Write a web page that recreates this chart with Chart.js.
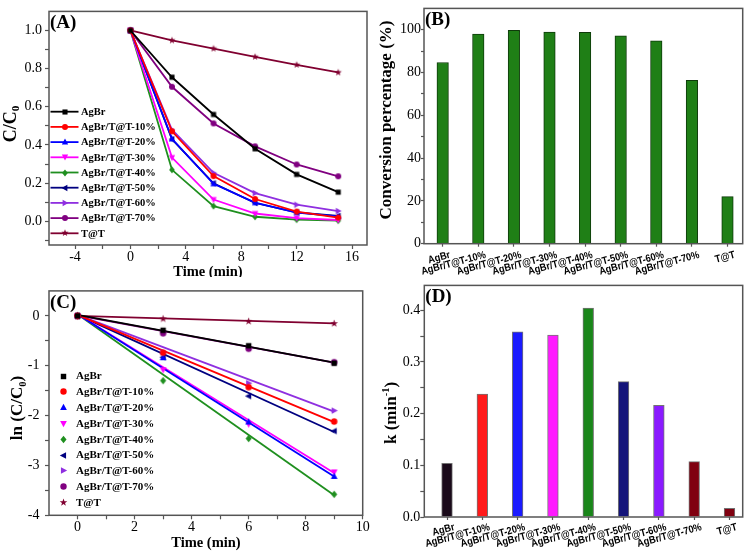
<!DOCTYPE html>
<html><head><meta charset="utf-8">
<script src="https://cdn.jsdelivr.net/npm/chart.js@4/dist/chart.umd.min.js"></script>
<style>
html,body{margin:0;padding:0;background:#fff;}
#wrap{position:relative;width:750px;height:554px;overflow:hidden;background:#fff;}
#wrap canvas{position:absolute;}
</style></head><body>
<div id="wrap">
<canvas id="cA" width="375" height="277" style="left:0;top:0"></canvas>
<canvas id="cB" width="375" height="277" style="left:375px;top:0"></canvas>
<canvas id="cC" width="375" height="277" style="left:0;top:277px"></canvas>
<canvas id="cD" width="375" height="277" style="left:375px;top:277px"></canvas>
</div>
<script>
// ---------------- DATA ----------------
const seriesNames = ['AgBr','AgBr/T@T-10%','AgBr/T@T-20%','AgBr/T@T-30%','AgBr/T@T-40%','AgBr/T@T-50%','AgBr/T@T-60%','AgBr/T@T-70%','T@T'];

// (A) C/C0 vs time
const timeA = [0, 3, 6, 9, 12, 15];
const ratioAgBr = [1, 0.755, 0.56, 0.38, 0.246, 0.153];
const ratio10 = [1, 0.472, 0.237, 0.117, 0.051, 0.02];
const ratio20 = [1, 0.432, 0.197, 0.098, 0.046, 0.026];
const ratio30 = [1, 0.334, 0.114, 0.041, 0.017, 0.007];
const ratio40 = [1, 0.27, 0.08, 0.024, 0.009, 0.004];
const ratio50 = [1, 0.43, 0.199, 0.096, 0.047, 0.028];
const ratio60 = [1, 0.48, 0.254, 0.148, 0.087, 0.054];
const ratio70 = [1, 0.705, 0.513, 0.393, 0.298, 0.236];
const ratioTT = [1, 0.948, 0.905, 0.862, 0.82, 0.78];

// (B) conversion percentage
const conversion = [84.7, 98.0, 99.8, 98.9, 98.8, 97.2, 94.8, 76.4, 22.0];

// (C) ln(C/C0) vs time, with linear fits
const timeC = [0, 3, 6, 9];
const lnAgBr = [0, -0.29, -0.60, -0.95];
const ln10 = [0, -0.74, -1.43, -2.12];
const ln20 = [0, -0.84, -2.13, -3.22];
const ln30 = [0, -1.08, -2.17, -3.13];
const ln40 = [0, -1.30, -2.46, -3.58];
const ln50 = [0, -0.83, -1.61, -2.31];
const ln60 = [0, -0.73, -1.35, -1.90];
const ln70 = [0, -0.35, -0.66, -0.93];
const lnTT = [0, -0.06, -0.11, -0.154];
const fitTime = [0, 9];
const fitAgBr = [0.02, -0.94];
const fit10 = [0.02, -2.13];
const fit20 = [0.03, -3.22];
const fit30 = [0.03, -3.15];
const fit40 = [0.03, -3.60];
const fit50 = [0.02, -2.33];
const fit60 = [0.02, -1.92];
const fit70 = [0.01, -0.94];
const fitTT = [0.0, -0.15];

// (D) rate constants
const rateK = [0.104, 0.238, 0.358, 0.352, 0.404, 0.262, 0.216, 0.107, 0.017];

// tick values
const xMajorA = [-4, 0, 4, 8, 12, 16];
const xMinorA = [-2, 2, 6, 10, 14];
const yMajorA = [0, 0.2, 0.4, 0.6, 0.8, 1.0];
const yMinorA = [-0.1, 0.1, 0.3, 0.5, 0.7, 0.9];
const yMajorB = [0, 20, 40, 60, 80, 100];
const yMinorB = [10, 30, 50, 70, 90];
const xMajorC = [0, 2, 4, 6, 8, 10];
const xMinorC = [1, 3, 5, 7, 9];
const yMajorC = [-4, -3, -2, -1, 0];
const yMinorC = [-3.5, -2.5, -1.5, -0.5];
const yMajorD = [0, 0.1, 0.2, 0.3, 0.4];
const yMinorD = [0.05, 0.15, 0.25, 0.35];
const barPos = [1, 2, 3, 4, 5, 6, 7, 8, 9];

// ---------------- STYLE ----------------
const SERIF = '"Liberation Serif","Times New Roman",serif';
const SANS = '"Liberation Sans",Arial,sans-serif';
const AX = '#555';
const lineColors = ['#000000','#ff0000','#0000ff','#ff00ff','#1f8f1f','#000080','#8f2fe0','#800080','#800030'];
const shapes = [['rect',0],['circle',0],['triangle',0],['triangle',180],['diamond',0],['triangle',-90],['triangle',90],['circle',0],['star',0]];
const barColorsD = ['#1a0a1a','#ff1a1a','#1a1aff','#ff1aff','#1a861a','#14147a','#8a1aff','#800010','#800010'];

function markerCanvas(shape, color, r, rot){
  const s = Math.ceil(r*2+4);
  const c = document.createElement('canvas'); c.width = s; c.height = s;
  const g = c.getContext('2d');
  g.translate(s/2, s/2); g.rotate((rot||0)*Math.PI/180);
  g.fillStyle = color; g.beginPath();
  if (shape==='rect') g.rect(-r*0.85,-r*0.85,r*1.7,r*1.7);
  else if (shape==='circle') g.arc(0,0,r,0,Math.PI*2);
  else if (shape==='triangle'){ g.moveTo(0,-r*1.15); g.lineTo(r*1.05,r*0.8); g.lineTo(-r*1.05,r*0.8); g.closePath(); }
  else if (shape==='diamond'){ g.moveTo(0,-r*1.15); g.lineTo(r*0.95,0); g.lineTo(0,r*1.15); g.lineTo(-r*0.95,0); g.closePath(); }
  else if (shape==='star'){ for(let i=0;i<10;i++){ const a=-Math.PI/2+i*Math.PI/5; const rr=(i%2)?r*0.5:r*1.25; g.lineTo(Math.cos(a)*rr,Math.sin(a)*rr);} g.closePath(); }
  g.fill();
  return c;
}
const markersA = shapes.map((s,i)=>markerCanvas(s[0], lineColors[i], 3, s[1]));
const markersC = shapes.map((s,i)=>markerCanvas(s[0], lineColors[i], 3.2, s[1]));

function drawRich(ctx, cx, cy, segs, size, rot){
  ctx.save();
  ctx.translate(cx, cy);
  if (rot) ctx.rotate(-Math.PI/2);
  let total = 0;
  const parts = segs.map(s=>{
    const fs = (s.sub||s.sup) ? size*0.62 : size;
    ctx.font = 'bold '+fs+'px '+SERIF;
    const w = ctx.measureText(s.t).width; total += w;
    return {s, fs, w};
  });
  let x = -total/2;
  ctx.textAlign='left'; ctx.textBaseline='middle'; ctx.fillStyle='#000';
  parts.forEach(p=>{
    ctx.font = 'bold '+p.fs+'px '+SERIF;
    const dy = p.s.sub ? size*0.3 : (p.s.sup ? -size*0.32 : 0);
    ctx.fillText(p.s.t, x, dy); x += p.w;
  });
  ctx.restore();
}

function framePlugin(o){
  return {
    id:'frame'+o.label,
    afterDraw(chart){
      const ctx = chart.ctx, a = chart.chartArea;
      ctx.save();
      ctx.strokeStyle = AX; ctx.lineWidth = 1.5;
      ctx.strokeRect(a.left, a.top, a.right-a.left, a.bottom-a.top);
      ctx.fillStyle = '#000'; ctx.font = 'bold 19px '+SERIF;
      ctx.textAlign='left'; ctx.textBaseline='middle';
      ctx.fillText(o.label, a.left+1, a.top+12);
      if (o.xTitle) drawRich(ctx, o.xTitle.x, o.xTitle.y, o.xTitle.segs, o.xTitle.size, false);
      if (o.yTitle) drawRich(ctx, o.yTitle.x, o.yTitle.y, o.yTitle.segs, o.yTitle.size, true);
      if (o.legend){
        const L = o.legend;
        seriesNames.forEach((n,i)=>{
          const y = L.y0 + i*L.dy;
          if (L.line){
            ctx.strokeStyle = lineColors[i]; ctx.lineWidth = 1.8;
            ctx.beginPath(); ctx.moveTo(L.lx0, y); ctx.lineTo(L.lx1, y); ctx.stroke();
          }
          const m = L.markers[i];
          ctx.drawImage(m, Math.round(L.mx - m.width/2), Math.round(y - m.height/2));
          ctx.fillStyle = '#000'; ctx.font = 'bold '+L.size+'px '+SERIF;
          ctx.textAlign='left'; ctx.textBaseline='middle';
          ctx.fillText(n, L.tx, y+0.5);
        });
      }
      if (o.cats){
        const C = o.cats, sx = chart.scales.x;
        ctx.fillStyle = '#000'; ctx.font = 'bold '+C.size+'px '+SANS;
        ctx.textAlign='right'; ctx.textBaseline='top';
        seriesNames.forEach((n,i)=>{
          const x = sx.getPixelForValue(barPos[i]);
          ctx.save(); ctx.translate(x + C.dx, a.bottom + C.dy);
          ctx.rotate(-C.rot*Math.PI/180); ctx.scale(C.sx,1);
          ctx.fillText(n, 0, 0); ctx.restore();
        });
      }
      ctx.restore();
    }
  };
}

function numScale(o){
  return {
    type:'linear', min:o.min, max:o.max, offset:false,
    afterBuildTicks(s){ s.ticks = o.major.concat(o.minor).sort((p,q)=>p-q).map(v=>({value:v})); },
    afterFit(s){ if (o.w!==undefined) s.width = o.w; if (o.h!==undefined) s.height = o.h; },
    ticks:{ display: o.labels!==false, autoSkip:false, maxRotation:0, minRotation:0, padding:o.pad||0,
      color:'#000', font:{family:SERIF, size:14},
      callback(v){ return o.major.includes(v) ? o.fmt(v) : ''; } },
    grid:{ display:true, offset:false, drawOnChartArea:false, drawTicks:true, tickLength:o.tl||4, tickColor:AX, tickWidth:1.2 },
    border:{ display:false },
    title:{ display:false }
  };
}
const baseOpts = { responsive:false, animation:false, devicePixelRatio:1, events:[],
  plugins:{ legend:{display:false}, tooltip:{enabled:false} } };
const pts = (xs, ys)=>xs.map((x,i)=>({x, y:ys[i]}));

// ---------------- (A) ----------------
const ratios = [ratioAgBr, ratio10, ratio20, ratio30, ratio40, ratio50, ratio60, ratio70, ratioTT];
new Chart(document.getElementById('cA'), {
  type:'line',
  data:{ datasets: ratios.map((r,i)=>({ label:seriesNames[i], data:pts(timeA, r), borderColor:lineColors[i],
    backgroundColor:lineColors[i], borderWidth:1.8, pointStyle:markersA[i], pointRadius:3, tension:0, fill:false })) },
  options: Object.assign({}, baseOpts, {
    layout:{ padding:{ top:4, right:8, left:0, bottom:0 } },
    scales:{
      x: numScale({min:-5.88, max:17.08, major:xMajorA, minor:xMinorA, fmt:v=>String(v), h:32, pad:0}),
      y: numScale({min:-0.124, max:1.10, major:yMajorA, minor:yMinorA, fmt:v=>v.toFixed(1), w:49, pad:3})
    }
  }),
  plugins:[ framePlugin({ label:'(A)',
    xTitle:{x:208, y:272, size:14.5, segs:[{t:'Time (min)'}]},
    yTitle:{x:11, y:124, size:18, segs:[{t:'C/C'},{t:'0',sub:true}]},
    legend:{ y0:111.7, dy:15.2, line:true, lx0:50.5, lx1:78.5, mx:64.5, tx:81, size:10.5, markers:markersA } }) ]
});

// ---------------- (B) ----------------
new Chart(document.getElementById('cB'), {
  type:'bar',
  data:{ datasets:[{ data:pts(barPos, conversion), backgroundColor:'#1f7f16', borderColor:'#0e3a0a', borderWidth:1, barThickness:11.5 }] },
  options: Object.assign({}, baseOpts, {
    layout:{ padding:{ top:4, right:7.3, left:0, bottom:0 } },
    scales:{
      x: numScale({min:0.475, max:9.427, major:[], minor:barPos, fmt:v=>'', h:33.3, labels:false, tl:3}),
      y: numScale({min:0, max:110, major:yMajorB, minor:yMinorB, fmt:v=>String(v), w:49, pad:0, tl:3})
    }
  }),
  plugins:[ framePlugin({ label:'(B)',
    yTitle:{x:12, y:120, size:17, segs:[{t:'Conversion percentage (%)'}]},
    cats:{ size:10.5, sx:0.88, rot:15, dx:6, dy:6 } }) ]
});

// ---------------- (C) ----------------
const lns = [lnAgBr, ln10, ln20, ln30, ln40, ln50, ln60, ln70, lnTT];
const fits = [fitAgBr, fit10, fit20, fit30, fit40, fit50, fit60, fit70, fitTT];
const dsC = [];
lns.forEach((r,i)=>dsC.push({ label:seriesNames[i], data:pts(timeC, r), showLine:false, pointStyle:markersC[i], pointRadius:3.2, order:0 }));
fits.forEach((r,i)=>dsC.push({ label:seriesNames[i]+' fit', data:pts(fitTime, r), showLine:true, borderColor:lineColors[i], borderWidth:1.8, pointRadius:0, order:1, tension:0 }));
new Chart(document.getElementById('cC'), {
  type:'scatter',
  data:{ datasets: dsC },
  options: Object.assign({}, baseOpts, {
    layout:{ padding:{ top:4, right:12.3, left:0, bottom:0 } },
    scales:{
      x: numScale({min:-1, max:10, major:xMajorC, minor:xMinorC, fmt:v=>String(v), h:38.7, pad:0}),
      y: numScale({min:-4, max:0.5, major:yMajorC, minor:yMinorC, fmt:v=>String(v), w:49, pad:5.5})
    }
  }),
  plugins:[ framePlugin({ label:'(C)',
    xTitle:{x:206, y:266.5, size:14.5, segs:[{t:'Time (min)'}]},
    yTitle:{x:18, y:131, size:17, segs:[{t:'ln (C/C'},{t:'0',sub:true},{t:')'}]},
    legend:{ y0:99, dy:15.8, line:false, mx:63, tx:76, size:11, markers:markersC } }) ]
});

// ---------------- (D) ----------------
new Chart(document.getElementById('cD'), {
  type:'bar',
  data:{ datasets:[{ data:pts(barPos, rateK), backgroundColor:barColorsD, borderColor:'rgba(0,0,0,0.55)', borderWidth:1, barThickness:10.7 }] },
  options: Object.assign({}, baseOpts, {
    layout:{ padding:{ top:4, right:7.3, left:0, bottom:0 } },
    scales:{
      x: numScale({min:0.357, max:9.374, major:[], minor:barPos, fmt:v=>'', h:37, labels:false, tl:3}),
      y: numScale({min:0, max:0.448, major:yMajorD, minor:yMinorD, fmt:v=>v.toFixed(1), w:49.3, pad:0, tl:4})
    }
  }),
  plugins:[ framePlugin({ label:'(D)',
    yTitle:{x:17, y:136, size:17, segs:[{t:'k (min'},{t:'-1',sup:true},{t:')'}]},
    cats:{ size:10.5, sx:0.88, rot:15, dx:6, dy:5 } }) ]
});
</script>
</body></html>
